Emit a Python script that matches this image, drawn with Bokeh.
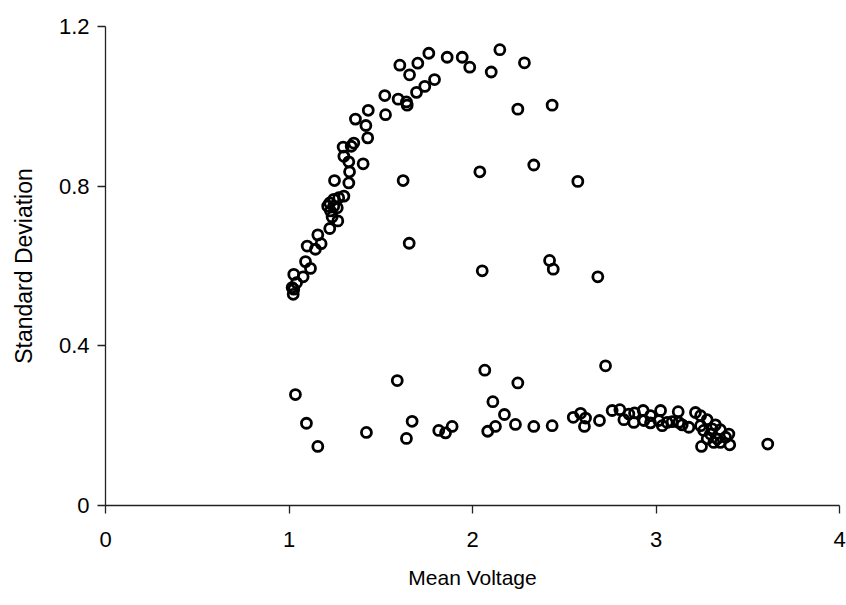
from bokeh.plotting import figure
from bokeh.models import Range1d, FixedTicker
from bokeh.embed import file_html
from bokeh.resources import INLINE

# Mean voltage (x) and standard deviation (y)
mean_voltage = [
    1.017, 1.026, 1.023, 1.041, 1.026, 1.077, 1.090, 1.117, 1.099, 1.144,
    1.157, 1.175, 1.222, 1.235, 1.266, 1.226, 1.211, 1.244, 1.263, 1.222,
    1.244, 1.271, 1.299, 1.248, 1.326, 1.330, 1.299, 1.326, 1.404, 1.295,
    1.339, 1.353, 1.429, 1.419, 1.362, 1.432, 1.526, 1.522, 1.595, 1.640,
    1.644, 1.695, 1.740, 1.793, 1.604, 1.657, 1.702, 1.762, 1.862, 1.944,
    1.985, 2.149, 2.102, 2.283, 2.247, 2.434, 1.622, 1.655, 2.040, 2.334,
    2.574, 2.053, 2.420, 2.440, 2.683,
    1.035, 1.095, 1.157, 1.422, 1.590, 1.671, 1.640, 1.816, 1.853, 1.889,
    2.067, 2.247, 2.111, 2.174, 2.083, 2.125, 2.234, 2.334, 2.434, 2.549,
    2.589, 2.616, 2.610, 2.692, 2.725,
    2.761, 2.803, 2.825, 2.852, 2.883, 2.879, 2.930, 2.934, 2.970, 2.970,
    3.025, 3.015, 3.034, 3.061, 3.088, 3.121, 3.124, 3.143, 3.179, 3.215,
    3.243, 3.279, 3.324, 3.351, 3.243, 3.260, 3.297, 3.306, 3.333, 3.379,
    3.397, 3.279, 3.315, 3.351, 3.248, 3.402, 3.609,
]
std_dev = [
    0.546, 0.542, 0.529, 0.558, 0.579, 0.573, 0.611, 0.594, 0.650, 0.642,
    0.678, 0.656, 0.694, 0.723, 0.713, 0.738, 0.750, 0.750, 0.746, 0.758,
    0.767, 0.771, 0.775, 0.814, 0.808, 0.836, 0.875, 0.861, 0.856, 0.898,
    0.900, 0.908, 0.921, 0.952, 0.968, 0.990, 0.979, 1.027, 1.018, 1.011,
    1.003, 1.035, 1.050, 1.067, 1.103, 1.079, 1.108, 1.133, 1.123, 1.123,
    1.098, 1.142, 1.086, 1.109, 0.993, 1.003, 0.814, 0.657, 0.836, 0.853,
    0.812, 0.588, 0.614, 0.592, 0.573,
    0.278, 0.206, 0.148, 0.183, 0.313, 0.211, 0.168, 0.188, 0.182, 0.198,
    0.339, 0.307, 0.260, 0.228, 0.186, 0.198, 0.203, 0.198, 0.200, 0.221,
    0.231, 0.219, 0.198, 0.213, 0.350,
    0.238, 0.240, 0.215, 0.229, 0.232, 0.208, 0.238, 0.213, 0.225, 0.207,
    0.238, 0.213, 0.200, 0.208, 0.210, 0.235, 0.208, 0.202, 0.196, 0.233,
    0.225, 0.215, 0.202, 0.190, 0.200, 0.188, 0.179, 0.192, 0.167, 0.171,
    0.179, 0.167, 0.158, 0.158, 0.148, 0.152, 0.154,
]

x_ticks = [0, 1, 2, 3, 4]
x_tick_labels = ["0", "1", "2", "3", "4"]
y_ticks = [0, 0.4, 0.8, 1.2]
y_tick_labels = ["0", "0.4", "0.8", "1.2"]

FONT = "Liberation Sans"

p = figure(
    width=846, height=605,
    x_range=Range1d(0, 4), y_range=Range1d(0, 1.2),
    output_backend="svg", toolbar_location=None,
    min_border_left=105, min_border_right=7,
    min_border_top=26, min_border_bottom=100,
    background_fill_color="white", border_fill_color="white",
)
p.outline_line_color = None
p.grid.visible = False

p.scatter(mean_voltage, std_dev, size=10, marker="circle",
          fill_color=None, line_color="black", line_width=2.8)

p.xaxis.ticker = FixedTicker(ticks=x_ticks)
p.yaxis.ticker = FixedTicker(ticks=y_ticks)
p.xaxis.major_label_overrides = dict(zip(x_ticks, x_tick_labels))
p.yaxis.major_label_overrides = dict(zip(y_ticks, y_tick_labels))

for ax in (p.xaxis[0], p.yaxis[0]):
    ax.axis_line_color = "#222222"
    ax.axis_line_width = 1.3
    ax.major_tick_line_color = "#222222"
    ax.major_tick_line_width = 1.3
    ax.major_tick_out = 8
    ax.major_tick_in = 0
    ax.minor_tick_out = 0
    ax.minor_tick_in = 0
    ax.major_label_text_font = FONT
    ax.major_label_text_font_size = "22px"
    ax.major_label_text_color = "black"
    ax.axis_label_text_font = FONT
    ax.axis_label_text_font_style = "normal"
    ax.axis_label_text_color = "black"

p.xaxis.axis_label = "Mean Voltage"
p.yaxis.axis_label = "Standard Deviation"
p.xaxis.axis_label_text_font_size = "21px"
p.yaxis.axis_label_text_font_size = "23px"
p.xaxis.major_label_standoff = 18
p.yaxis.major_label_standoff = 8
p.xaxis.axis_label_standoff = 16
p.yaxis.axis_label_standoff = 19

open("out.html", "w").write(file_html(p, INLINE))
